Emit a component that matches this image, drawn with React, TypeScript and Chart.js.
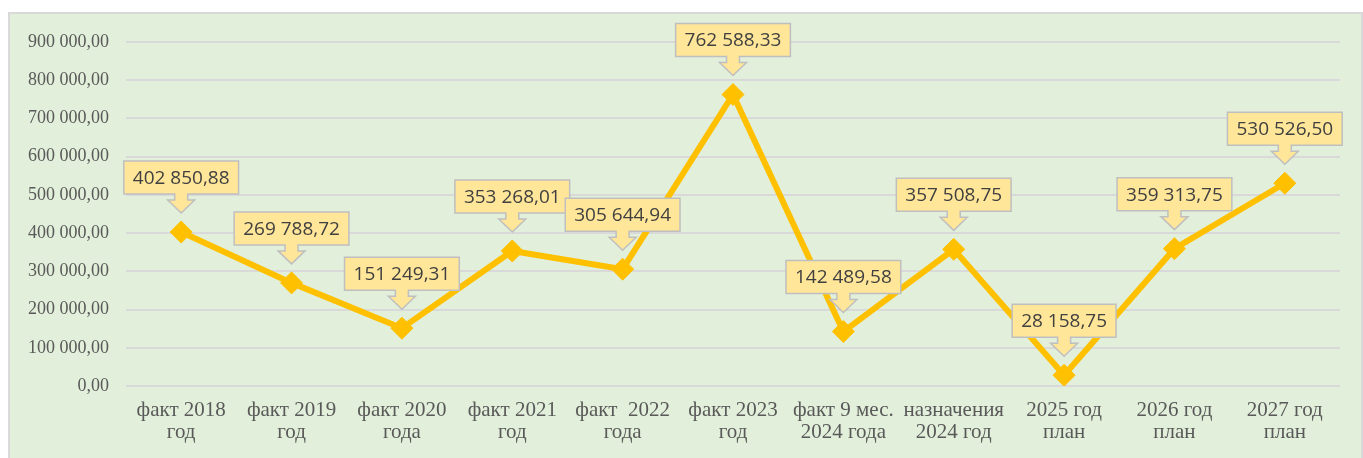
import React, { useEffect, useRef } from "react";
import { Chart, registerables } from "chart.js";

Chart.register(...registerables);

const categories: string[][] = [
  ["факт 2018", "год"],
  ["факт 2019", "год"],
  ["факт 2020", "года"],
  ["факт 2021", "год"],
  ["факт  2022", "года"],
  ["факт 2023", "год"],
  ["факт 9 мес.", "2024 года"],
  ["назначения", "2024 год"],
  ["2025 год", "план"],
  ["2026 год", "план"],
  ["2027 год", "план"],
];

const values: number[] = [
  402850.88, 269788.72, 151249.31, 353268.01, 305644.94, 762588.33, 142489.58,
  357508.75, 28158.75, 359313.75, 530526.5,
];

const yMin = 0;
const yMax = 900000;
const yStep = 100000;

function fmt(v: number): string {
  const [ip, dp] = Math.abs(v).toFixed(2).split(".");
  const grouped = ip.replace(/\B(?=(\d{3})+(?!\d))/g, " ");
  return (v < 0 ? "-" : "") + grouped + "," + dp;
}

const calloutPlugin = {
  id: "callouts",
  afterDatasetsDraw(chart: any) {
    const ctx = chart.ctx;
    const meta = chart.getDatasetMeta(0);
    const ds = chart.data.datasets[0];
    ctx.save();
    ctx.font = "19px 'Open Sans', 'Liberation Sans', sans-serif";
    ctx.textAlign = "center";
    ctx.textBaseline = "middle";
    meta.data.forEach((pt: any, i: number) => {
      const text = fmt(ds.data[i]);
      const tw = ctx.measureText(text).width;
      const w = tw + 18;
      const h = 33;
      const cx = pt.x;
      const B = pt.y - 38;
      const T = B - h;
      const L = cx - w / 2;
      const R = cx + w / 2;
      ctx.beginPath();
      ctx.moveTo(L, T);
      ctx.lineTo(R, T);
      ctx.lineTo(R, B);
      ctx.lineTo(cx + 6.5, B);
      ctx.lineTo(cx + 6.5, B + 6);
      ctx.lineTo(cx + 13.5, B + 6);
      ctx.lineTo(cx, B + 19);
      ctx.lineTo(cx - 13.5, B + 6);
      ctx.lineTo(cx - 6.5, B + 6);
      ctx.lineTo(cx - 6.5, B);
      ctx.lineTo(L, B);
      ctx.closePath();
      ctx.fillStyle = "#FFE699";
      ctx.fill();
      ctx.lineWidth = 1.5;
      ctx.strokeStyle = "#BFBFBF";
      ctx.stroke();
      ctx.fillStyle = "#404040";
      ctx.fillText(text, cx, T + h / 2 + 1);
    });
    ctx.restore();
  },
};

export default function App() {
  const ref = useRef<HTMLCanvasElement | null>(null);

  useEffect(() => {
    document.body.style.margin = "0";
    document.body.style.overflow = "hidden";
    if (!ref.current) return;
    const chart = new Chart(ref.current, {
      type: "line",
      data: {
        labels: categories,
        datasets: [
          {
            data: values,
            borderColor: "#FFC000",
            backgroundColor: "#FFC000",
            borderWidth: 6,
            tension: 0,
            pointStyle: "rectRot",
            pointRadius: 11,
            pointHoverRadius: 11,
            pointBorderWidth: 1,
            pointBackgroundColor: "#FFC000",
            pointBorderColor: "#FFC000",
          },
        ],
      },
      options: {
        animation: false,
        responsive: true,
        maintainAspectRatio: false,
        layout: { padding: { top: 28, right: 21, left: 0, bottom: 0 } },
        plugins: {
          legend: { display: false },
          tooltip: { enabled: false },
        },
        scales: {
          x: {
            offset: true,
            grid: { display: false, drawTicks: false },
            border: { display: false },
            ticks: {
              color: "#595959",
              padding: 13,
              maxRotation: 0,
              autoSkip: false,
              font: { family: "'Liberation Serif', 'Times New Roman', serif", size: 21, lineHeight: "22px" },
            },
            afterFit: (s: any) => {
              s.height = 84;
            },
          },
          y: {
            min: yMin,
            max: yMax,
            grid: { color: "#D9D9D9", lineWidth: 2, drawTicks: false },
            border: { display: false },
            ticks: {
              stepSize: yStep,
              color: "#595959",
              padding: 17,
              font: { family: "'Liberation Serif', 'Times New Roman', serif", size: 18 },
              callback: (v: any) => fmt(Number(v)),
            },
            afterFit: (s: any) => {
              s.width = 116;
            },
          },
        },
      },
      plugins: [calloutPlugin],
    });
    return () => chart.destroy();
  }, []);

  return (
    <div
      style={{
        marginLeft: 8,
        marginTop: 12,
        width: 1355,
        height: 460,
        boxSizing: "border-box",
        border: "2px solid #D9D9D9",
        background: "#E2EFDA",
        position: "relative",
      }}
    >
      <canvas ref={ref} />
    </div>
  );
}
